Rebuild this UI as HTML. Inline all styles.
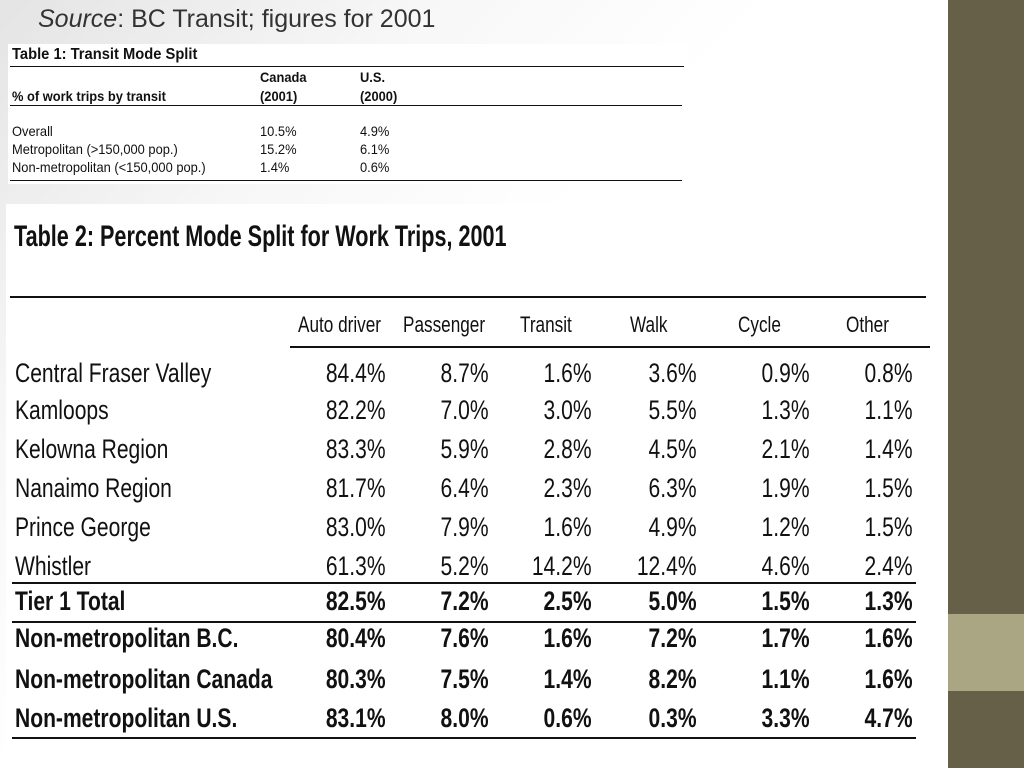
<!DOCTYPE html>
<html><head><meta charset="utf-8">
<style>
body{margin:0;width:1024px;height:768px;position:relative;overflow:hidden;background:#fff;font-family:"Liberation Sans",sans-serif;color:#111}
.bg{position:absolute;left:0;top:0;width:948px;height:768px;background:linear-gradient(135deg,#e4e4e4 0%,#f7f7f7 25%,#fff 45%)}
.strip{position:absolute;left:948px;top:0;width:76px;height:768px;background:#676049}
.band{position:absolute;left:948px;top:614px;width:76px;height:77px;background:#aaa583}
.t1{position:absolute;left:8px;top:44px;width:680px;height:140px;background:#fff}
.t2{position:absolute;left:6px;top:204px;width:942px;height:564px;background:#fff}
.a{position:absolute;white-space:nowrap}
.n{position:absolute;white-space:nowrap;transform:scaleX(0.78);transform-origin:left center;font-size:27px;line-height:30px}
.r{position:absolute;white-space:nowrap;transform:scaleX(0.78);transform-origin:right center;font-size:27px;line-height:30px;text-align:right}
.b{font-weight:bold}
.ln{position:absolute;background:#111}
.s1{font-size:14px;line-height:16px;position:absolute;white-space:nowrap;transform:scaleX(0.92);transform-origin:left center}
</style></head><body>
<div class="bg"></div>
<div class="strip"></div>
<div class="band"></div>
<div class="a" style="left:38px;top:5px;font-size:25px;color:#333"><i>Source</i>: BC Transit; figures for 2001</div>

<div class="t1">
<div class="s1 b" style="left:4px;top:3px;font-size:16px">Table 1: Transit Mode Split</div>
<div class="ln" style="left:2px;top:22px;width:674px;height:1px"></div>
<div class="s1 b" style="left:4px;top:44px">% of work trips by transit</div>
<div class="s1 b" style="left:252px;top:24px;line-height:19px">Canada<br>(2001)</div>
<div class="s1 b" style="left:352px;top:24px;line-height:19px">U.S.<br>(2000)</div>
<div class="ln" style="left:2px;top:61px;width:672px;height:1px"></div>
<div class="s1" style="left:4px;top:78px;line-height:18px">Overall<br>Metropolitan (&gt;150,000 pop.)<br>Non-metropolitan (&lt;150,000 pop.)</div>
<div class="s1" style="left:252px;top:78px;line-height:18px">10.5%<br>15.2%<br>1.4%</div>
<div class="s1" style="left:352px;top:78px;line-height:18px">4.9%<br>6.1%<br>0.6%</div>
<div class="ln" style="left:2px;top:136px;width:672px;height:1px"></div>
</div>

<div class="t2"></div>
<div class="n b" style="left:14px;top:220px;font-size:30px;line-height:34px;transform:scaleX(0.72)">Table 2: Percent Mode Split for Work Trips, 2001</div>
<div class="ln" style="left:10px;top:296px;width:916px;height:2px"></div>
<div class="ln" style="left:290px;top:346px;width:640px;height:2px"></div>
<div class="ln" style="left:12px;top:582px;width:904px;height:2px"></div>
<div class="ln" style="left:12px;top:621px;width:904px;height:2px"></div>
<div class="ln" style="left:12px;top:737px;width:904px;height:2px"></div>
<div id="t2"></div>
<script>
const heads=["Auto driver","Passenger","Transit","Walk","Cycle","Other"];
const headX=[298,403,520,630,738,846];
const rows=["Central Fraser Valley","Kamloops","Kelowna Region","Nanaimo Region","Prince George","Whistler","Tier 1 Total","Non-metropolitan B.C.","Non-metropolitan Canada","Non-metropolitan U.S."];
const vals=[
["84.4%","8.7%","1.6%","3.6%","0.9%","0.8%"],
["82.2%","7.0%","3.0%","5.5%","1.3%","1.1%"],
["83.3%","5.9%","2.8%","4.5%","2.1%","1.4%"],
["81.7%","6.4%","2.3%","6.3%","1.9%","1.5%"],
["83.0%","7.9%","1.6%","4.9%","1.2%","1.5%"],
["61.3%","5.2%","14.2%","12.4%","4.6%","2.4%"],
["82.5%","7.2%","2.5%","5.0%","1.5%","1.3%"],
["80.4%","7.6%","1.6%","7.2%","1.7%","1.6%"],
["80.3%","7.5%","1.4%","8.2%","1.1%","1.6%"],
["83.1%","8.0%","0.6%","0.3%","3.3%","4.7%"]];
const rowY=[358,395,434,473,512,551,586,623,664,703];
const colR=[386,489,592,697,810,913];
const c=document.getElementById('t2');
heads.forEach((h,i)=>{const d=document.createElement('div');d.className='n';d.style.cssText=`left:${headX[i]}px;top:310px;font-size:22px`;d.textContent=h;


c.appendChild(d);});
rows.forEach((r,ri)=>{const bold=ri>=6?' b':'';
const d=document.createElement('div');d.className='n'+bold;d.style.cssText=`left:15px;top:${rowY[ri]}px`;d.textContent=r;


c.appendChild(d);
vals[ri].forEach((v,ci)=>{const e=document.createElement('div');e.className='r'+bold;e.style.cssText=`right:${1024-colR[ci]}px;top:${rowY[ri]}px`;e.textContent=v;


c.appendChild(e);});});
</script>
</body></html>
